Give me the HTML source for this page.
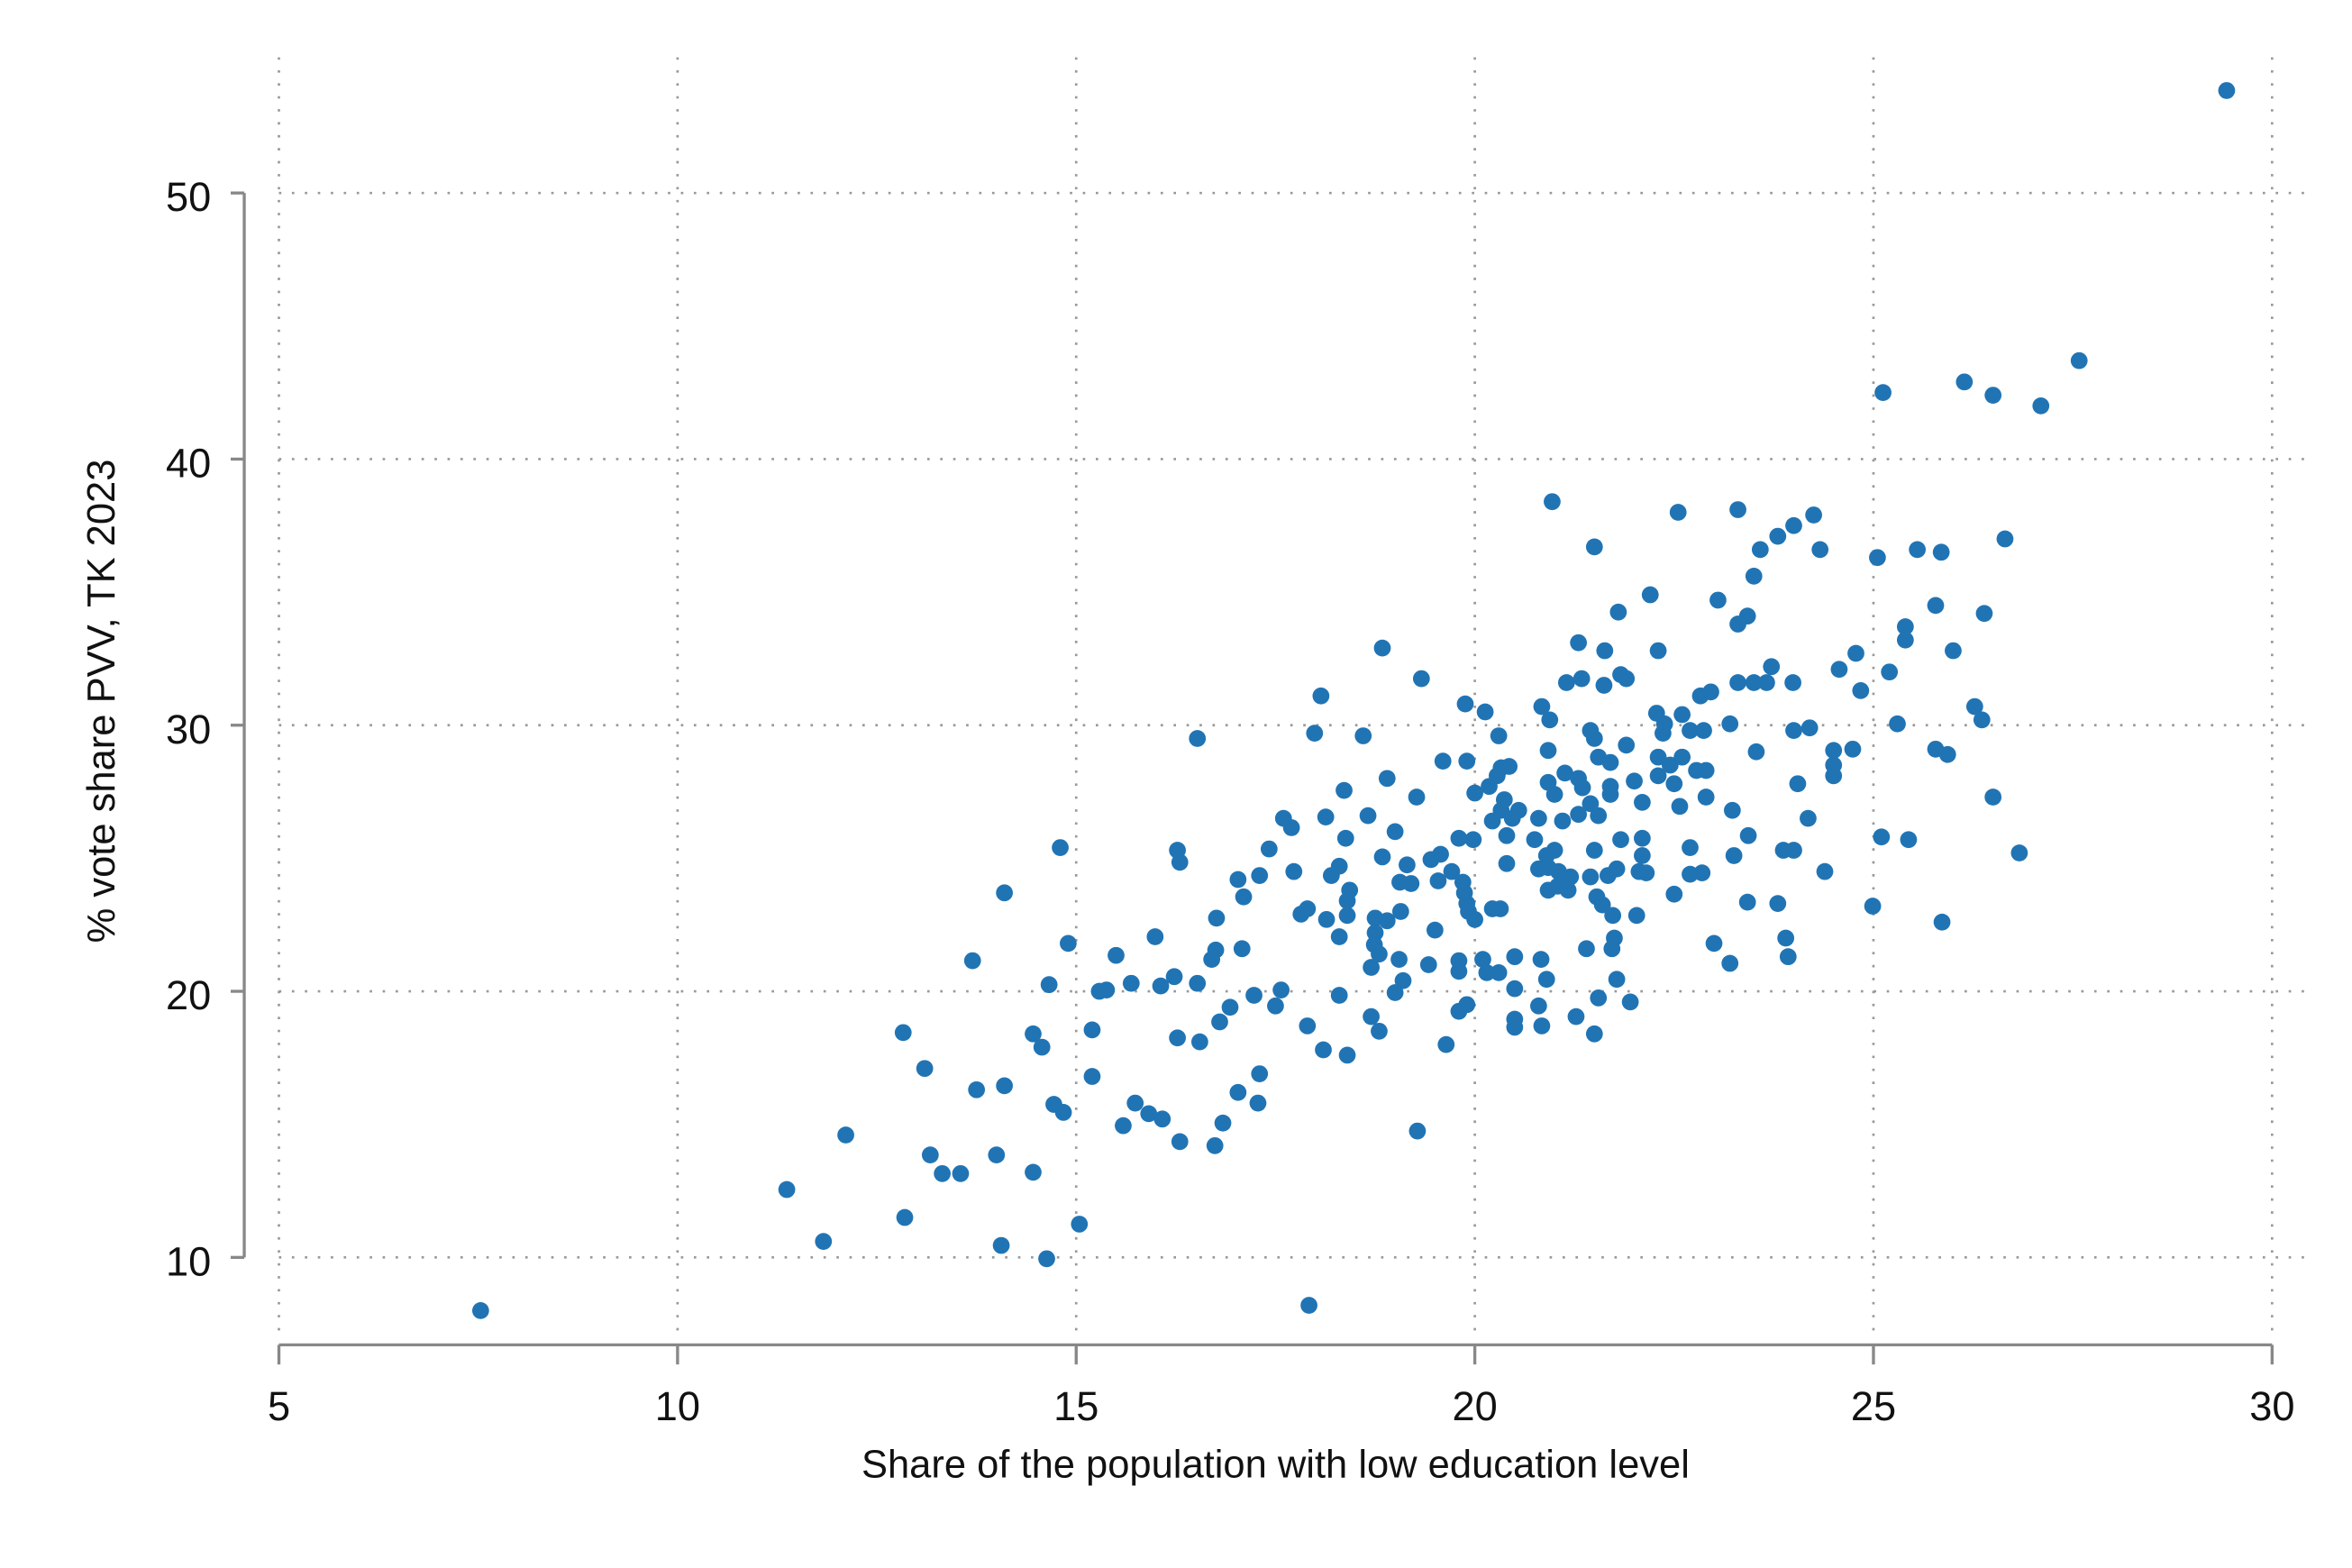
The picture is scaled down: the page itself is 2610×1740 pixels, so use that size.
<!DOCTYPE html>
<html><head><meta charset="utf-8"><style>
html,body{margin:0;padding:0;background:#fff;}
svg{display:block;}
text{font-family:"Liberation Sans Narrow","Liberation Sans",sans-serif;fill:#111;}
</style></head><body>
<svg id="chart" width="2610" height="1740" viewBox="0 0 1560 1040" xmlns="http://www.w3.org/2000/svg">
<g id="grid"></g>
<g id="axes"></g>
<g id="points"></g>
<text x="846" y="980" font-size="26" text-anchor="middle">Share of the population with low education level</text>
<text x="0" y="0" font-size="26" text-anchor="middle" transform="translate(76,465) rotate(-90)">% vote share PVV, TK 2023</text>
</svg>
<script>
const xTicks=[5,10,15,20,25,30];
const yTicks=[10,20,30,40,50];
const xVals=[29.43,27.58,27.1,26.5,26.14,25.12,26.65,25.55,25.85,25.05,25.78,26.39,25.4,25.4,26.0,25.2,24.78,24.57,24.84,26.27,26.36,25.3,24.74,24.5,24.5,24.5,25.78,25.93,26.5,25.1,25.44,26.83,24.99,25.86,24.39,24.18,24.2,24.0,24.05,23.53,23.99,23.72,23.5,23.66,23.3,23.42,23.3,23.5,23.58,23.8,24.0,24.25,24.33,23.3,22.55,20.97,21.5,22.2,23.05,21.8,21.3,22.3,21.63,21.34,21.15,21.83,21.9,21.62,18.84,19.33,18.07,19.88,20.13,20.84,20.94,22.28,22.6,22.83,22.96,22.7,22.87,22.38,22.36,23.2,17.99,18.6,16.52,20.3,20.92,21.45,21.5,21.9,21.55,21.7,22.3,22.6,22.45,22.78,22.9,22.3,22.5,22.0,21.7,21.13,21.3,20.92,21.35,21.0,21.1,21.3,21.45,21.55,21.7,22.1,22.57,22.9,23.23,23.43,23.25,22.7,22.7,22.85,22.5,23.42,23.8,23.87,24.0,23.9,23.93,23.0,23.2,22.1,22.1,22.06,22.15,21.83,21.78,21.67,21.45,21.5,21.53,21.6,22.03,21.73,21.75,21.72,21.4,21.95,21.78,21.55,21.5,21.27,21.2,21.04,20.92,21.17,20.92,21.05,20.8,21.0,20.9,20.8,20.75,20.47,20.55,20.33,20.37,20.22,20.18,20.0,20.28,20.33,20.43,19.9,19.6,18.9,18.36,19.27,18.66,18.13,17.6,17.7,18.38,19.0,19.98,19.8,20.4,17.42,18.84,19.45,19.57,19.15,18.3,17.73,18.2,19.06,19.2,19.71,19.85,19.54,20.4,19.87,19.9,19.92,20.22,20.32,20.0,19.5,19.07,18.43,18.4,18.4,18.14,18.3,17.82,17.9,18.75,18.9,18.75,18.74,18.8,18.7,19.05,19.8,19.8,20.1,20.15,20.3,20.5,20.83,20.9,20.5,19.1,19.0,19.42,19.9,19.8,20.8,20.5,20.5,20.84,18.3,18.7,18.8,17.9,18.1,18.4,19.64,19.28,17.92,17.57,17.23,17.5,16.93,16.8,17.08,16.7,16.75,16.76,17.1,17.03,17.3,16.27,16.3,15.99,16.23,16.06,16.52,15.5,15.69,15.29,15.38,14.9,14.66,14.8,14.1,13.7,16.27,16.55,15.2,14.46,14.57,12.83,13.1,13.75,14.1,15.2,17.3,17.03,17.28,15.74,15.91,16.08,15.59,14.72,14.84,16.84,16.3,16.74,12.11,13.17,13.32,13.55,14.0,14.46,11.37,12.85,15.04,11.83,14.06,14.63,7.53];
const yVals=[53.85,43.7,42.0,42.4,42.9,42.5,37.0,36.6,36.5,36.3,34.5,34.2,33.7,33.2,32.8,32.0,32.7,32.1,31.3,30.7,30.2,30.05,29.1,29.05,28.5,28.1,29.1,28.9,27.3,25.8,25.7,25.2,23.2,22.6,24.5,26.5,29.9,29.8,27.8,29.0,31.6,32.2,31.6,31.6,31.6,34.1,33.8,35.6,36.6,37.1,37.5,37.9,36.6,38.1,38.0,38.4,36.7,34.9,34.7,34.25,33.1,32.8,32.8,31.75,31.6,31.9,31.75,31.5,32.9,31.75,31.1,30.8,30.5,30.7,30.2,30.45,30.4,31.1,31.25,29.8,29.8,30.05,29.7,30.05,29.7,29.6,29.5,29.6,29.05,29.8,29.5,29.25,28.8,28.6,28.8,28.8,28.5,28.3,28.3,28.1,27.8,27.9,27.7,28.2,28.0,27.85,27.65,27.4,26.4,26.65,27.05,26.6,27.4,27.1,26.95,27.3,26.8,25.85,25.1,25.4,24.4,24.45,23.65,23.35,23.3,25.3,25.3,22.0,21.3,21.8,21.05,25.75,25.1,24.5,24.45,25.7,24.6,24.35,24.3,25.3,23.55,23.25,22.85,22.85,22.0,21.6,21.6,19.6,20.45,19.75,18.4,19.05,24.3,23.95,23.8,23.8,24.65,24.5,24.6,25.3,25.1,26.5,25.7,26.5,26.8,26.8,27.2,26.4,27.7,27.45,28.1,28.4,28.45,28.65,28.65,28.0,27.55,27.3,26.6,26.55,26.5,26.15,25.75,26.0,25.7,25.75,25.85,25.35,25.05,24.95,25.15,24.75,24.7,24.5,24.35,24.1,24.05,24.5,24.1,24.15,24.8,23.7,23.3,23.0,23.1,23.1,22.7,22.3,23.0,23.8,23.4,22.85,22.7,22.05,22.9,23.1,22.75,22.65,22.2,21.75,21.4,20.9,21.2,21.15,20.75,21.2,20.7,20.7,21.3,21.2,20.45,20.1,20.4,19.95,21.0,19.5,19.25,19.45,18.95,18.65,18.7,19.85,19.05,18.5,18.7,17.8,17.6,18.0,14.75,8.2,20.05,19.85,19.45,19.4,18.85,21.6,21.2,21.55,22.75,23.55,24.2,24.35,25.3,24.85,22.05,20.55,20.2,20.3,21.35,20.3,20.0,20.05,21.8,20.25,25.4,23.7,21.15,18.25,18.1,18.55,18.4,17.9,18.45,17.1,16.3,16.45,16.8,16.9,16.2,15.8,15.8,15.4,15.2,14.95,15.75,15.45,15.05,14.35,14.2,14.6,13.85,13.15,13.15,13.85,13.2,12.55,11.5,11.25,10.6,10.45,9.95,8.0];

const NS='http://www.w3.org/2000/svg';
const xScale=v=>185+(v-5)*(1507-185)/25;
const yScale=v=>834-(v-10)*(834-128)/40;
const grid=document.getElementById('grid'),axes=document.getElementById('axes'),pts=document.getElementById('points');
function mk(tag,attrs,parent){const e=document.createElementNS(NS,tag);for(const k in attrs)e.setAttribute(k,attrs[k]);parent.appendChild(e);return e;}

xTicks.forEach(t=>{
  const x=xScale(t);
  const g=mk('line',{x1:x,x2:x,y1:38,y2:885,stroke:'#999','stroke-width':1.6,'stroke-dasharray':'1.6 7'},grid);
  
  
  const tk=mk('line',{x1:x,x2:x,y1:892,y2:905,stroke:'#888','stroke-width':2},axes);
  
  
  const lb=mk('text',{x:x,y:942,'font-size':27,'text-anchor':'middle'},axes);
  lb.textContent=t;
  
  
});
yTicks.forEach(t=>{
  const y=yScale(t);
  const g=mk('line',{x1:185,x2:1530,y1:y,y2:y,stroke:'#999','stroke-width':1.6,'stroke-dasharray':'1.6 7'},grid);
  
  
  const tk=mk('line',{x1:153,x2:162,y1:y,y2:y,stroke:'#888','stroke-width':2},axes);
  
  
  const lb=mk('text',{x:140,y:y+12,'font-size':27,'text-anchor':'end'},axes);
  lb.textContent=t;
  
  
});
const xa=mk('line',{x1:185,x2:1507,y1:892,y2:892,stroke:'#888','stroke-width':2},axes);


const ya=mk('line',{x1:162,x2:162,y1:yScale(50),y2:yScale(10),stroke:'#888','stroke-width':2},axes);



xVals.forEach((v,i)=>{
  const c=mk('circle',{cx:xScale(v),cy:yScale(yVals[i]),r:5.6,fill:'#2174b4'},pts);
  
  
});
</script>
</body></html>
